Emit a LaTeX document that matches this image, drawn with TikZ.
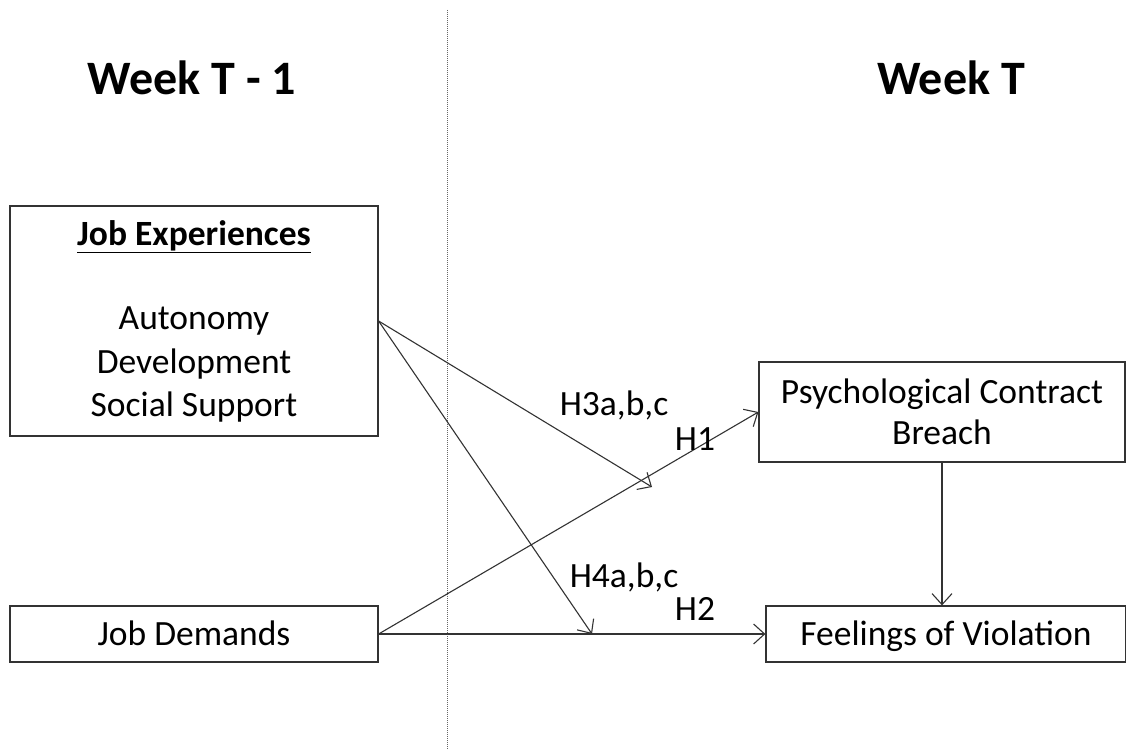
\documentclass[tikz,border=0pt]{standalone}
\usepackage{fontspec}
\setmainfont{Carlito}
\usetikzlibrary{arrows.meta}
\tikzset{
  txt/.style={font=\fontsize{35.5}{41}\selectfont, inner sep=0pt},
  box/.style={draw=black!80, line width=1.2pt, inner sep=0pt, align=center, txt},
  onebox/.style={box, text height=23pt, text depth=0pt},
  lbl/.style={txt, anchor=base},
  head/.style={font=\fontsize{48}{54}\selectfont\bfseries, inner sep=0pt, anchor=base},
  arr/.style={draw=black!80, line width=1.1pt, -{Straight Barb[length=11pt,width=20pt,line width=1.1pt]}},
  divider/.style={draw=black!60, line width=1pt, dash pattern=on 1pt off 1pt}
}
\begin{document}
\begin{tikzpicture}[x=1pt,y=-1pt]
\useasboundingbox[fill=white] (0,0) rectangle (1126,749);
\coordinate (dtop) at (447,10);
\coordinate (dbot) at (447,749);
\draw[divider] (dtop) -- (dbot);
\node[head] (wk1) at (192,95) {Week T - 1};
\node[head] (wk) at (951,95) {Week T};
\node[box, minimum width=368pt, minimum height=230pt] (je) at (194,321) {};
\node[lbl] (jet) at (194,245) {\bfseries\underline{Job Experiences}};
\node[lbl] (je1) at (194,329) {Autonomy};
\node[lbl] (je2) at (194,373) {Development};
\node[lbl] (je3) at (194,416) {Social Support};
\node[onebox, minimum width=368pt, minimum height=56pt] (jd) at (194,634) {Job Demands};
\node[box, minimum width=366pt, minimum height=100pt] (pcb) at (942,412) {Psychological Contract\\Breach};
\node[onebox, minimum width=360pt, minimum height=56pt] (fov) at (946,634) {Feelings of Violation};
\coordinate (h3end) at (652,487);
\coordinate (h4end) at (592,634);
\draw[arr] (je.east) -- (h3end);
\draw[arr] (je.east) -- (h4end);
\draw[arr] (jd.east) -- (pcb.west);
\draw[arr] (jd.east) -- (fov.west);
\draw[arr] (pcb.south -| 942,0) -- (fov.north -| 942,0);
\node[lbl] (h3) at (614,415) {H3a,b,c};
\node[lbl] (h1) at (695,450) {H1};
\node[lbl] (h4) at (624,587) {H4a,b,c};
\node[lbl] (h2) at (695,620) {H2};
\end{tikzpicture}
\end{document}
